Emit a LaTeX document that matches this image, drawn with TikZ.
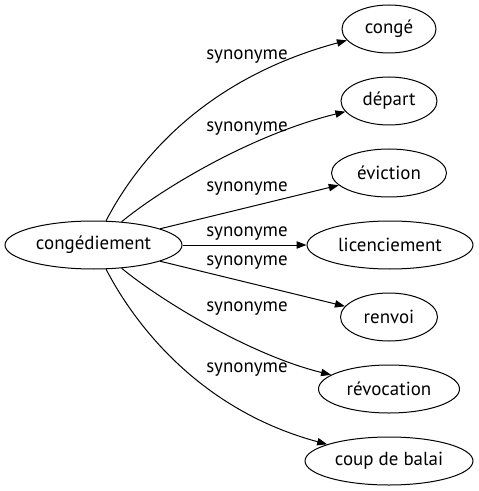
\documentclass[tikz,border=0pt]{standalone}
\usepackage{fontspec}
\setmainfont{PT Sans}
\usetikzlibrary{shapes.geometric,arrows.meta}

\tikzset{every picture/.style={line width=0.75pt}}
\tikzset{
  word/.style={draw, ellipse, inner sep=0pt, minimum height=36pt, font=\fontsize{14.2}{16}\selectfont},
  syn/.style={-{Triangle[length=7.5pt,width=5.5pt]}},
  synlabel/.style={font=\fontsize{14.2}{16}\selectfont}
}

\begin{document}
\begin{tikzpicture}[x=0.75pt,y=0.75pt,yscale=-1,xscale=1]
	\useasboundingbox (0,0) rectangle (478,491);

	%Shape: Ellipse [id:head]
	\node [word, minimum width=132.75pt] (cong) at (93.5,245) {congédiement};
	%Shape: Ellipse [id:targets]
	\node [word, minimum width=70.5pt] (conge) at (389,29) {congé};
	\node [word, minimum width=72pt] (depart) at (389,101) {départ};
	\node [word, minimum width=86.25pt] (eviction) at (389,173) {éviction};
	\node [word, minimum width=124.5pt] (licenc) at (390,245) {licenciement};
	\node [word, minimum width=72.75pt] (renvoi) at (389,317) {renvoi};
	\node [word, minimum width=105.75pt] (revoc) at (389,389) {révocation};
	\node [word, minimum width=126pt] (balai) at (389,461) {coup de balai};

	%Curve Lines [id:edges]
	\draw [syn] (cong) .. controls (135,165) and (200,80) .. (conge);
	\draw [syn] (cong) .. controls (160,190) and (250,135) .. (depart);
	\draw [syn] (cong) -- (eviction);
	\draw [syn] (cong) -- (licenc);
	\draw [syn] (cong) -- (renvoi);
	\draw [syn] (cong) .. controls (160,300) and (250,355) .. (revoc);
	\draw [syn] (cong) .. controls (135,325) and (200,410) .. (balai);

	% Text Node
	\node [synlabel] (s1) at (247,57) {synonyme};
	% Text Node
	\node [synlabel] (s2) at (247,129) {synonyme};
	% Text Node
	\node [synlabel] (s3) at (247,189) {synonyme};
	% Text Node
	\node [synlabel] (s4) at (247,234) {synonyme};
	% Text Node
	\node [synlabel] (s5) at (247,263) {synonyme};
	% Text Node
	\node [synlabel] (s6) at (247,309) {synonyme};
	% Text Node
	\node [synlabel] (s7) at (247,370) {synonyme};

\end{tikzpicture}
\end{document}
